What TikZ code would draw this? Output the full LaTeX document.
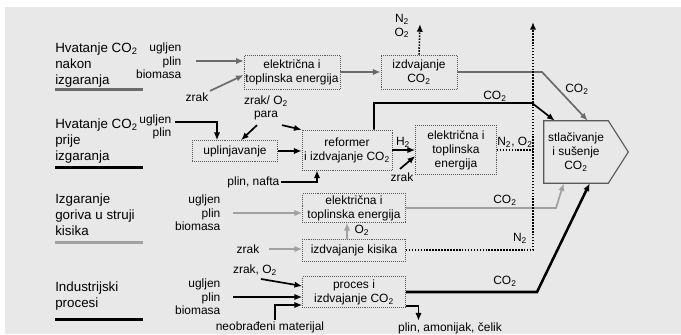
\documentclass[tikz,border=0pt]{standalone}
\usepackage{fontspec}
\setmainfont{Liberation Sans}
\usetikzlibrary{arrows.meta,calc}

\definecolor{bgcol}{gray}{0.91}
\definecolor{darkline}{gray}{0.42}
\definecolor{lightline}{gray}{0.63}
\definecolor{boxline}{gray}{0.35}

\newcommand{\cotwo}{CO\textsubscript{2}}
\newcommand{\otwo}{O\textsubscript{2}}
\newcommand{\ntwo}{N\textsubscript{2}}

\tikzset{
  >={Latex[length=5.5pt,width=4.5pt]},
  procbox/.style={draw=boxline, densely dotted, thin, align=center, inner sep=1pt, font=\fontsize{8.5}{10}\selectfont},
  lbl/.style={align=center, inner sep=1pt, font=\fontsize{8.5}{9.8}\selectfont},
  feed/.style={align=right, anchor=east, inner sep=1pt, font=\fontsize{8.5}{9.5}\selectfont},
  grouplabel/.style={align=left, anchor=west, inner sep=0pt, font=\fontsize{9.5}{11.5}\selectfont},
  dline/.style={draw=darkline, line width=1.2pt},
  bline/.style={draw=black, line width=1.2pt},
  lline/.style={draw=lightline, line width=1.2pt},
  gasline/.style={draw=black, densely dotted, line width=1.1pt},
}

\begin{document}
\begin{tikzpicture}[x=0.025cm,y=-0.025cm]
\path[use as bounding box, fill=white] (0,0) rectangle (681,334);
\fill[bgcol] (5,7) rectangle (681,334);

% group labels
\node[grouplabel] (g1) at (55,65) {Hvatanje \cotwo\\nakon\\izgaranja};
\node[grouplabel] (g2) at (55,141) {Hvatanje \cotwo\\prije\\izgaranja};
\node[grouplabel] (g3) at (55,215) {Izgaranje\\goriva u struji\\kisika};
\node[grouplabel] (g4) at (55,296) {Industrijski\\procesi};
\draw[darkline, line width=2pt] ($(g1.south west)+(0,2)$) -- ++(88,0);
\draw[black, line width=2pt] ($(g2.south west)+(0,4)$) -- ++(88,0);
\draw[lightline, line width=2pt] ($(g3.south west)+(0,6)$) -- ++(88,0);
\draw[black, line width=2pt] ($(g4.south west)+(0,9)$) -- ++(88,0);

% units
\node[procbox, minimum width=2.375cm, minimum height=0.85cm] (elek1) at (292,72) {električna i\\toplinska energija};
\node[procbox, minimum width=1.9cm, minimum height=0.85cm] (izdv1) at (419,72) {izdvajanje\\\cotwo};
\node[procbox, minimum width=2.125cm, minimum height=0.525cm] (uplin) at (235,151) {uplinjavanje};
\node[procbox, minimum width=2.25cm, minimum height=1cm] (reform) at (347,150) {reformer\\i izdvajanje \cotwo};
\node[procbox, minimum width=2.025cm, minimum height=1.225cm] (elek2) at (456,150) {električna i\\toplinska\\energija};
\node[procbox, minimum width=2.575cm, minimum height=0.725cm] (elek3) at (354,208) {električna i\\toplinska energija};
\node[procbox, minimum width=2.575cm, minimum height=0.55cm] (kisik) at (354,250) {izdvajanje kisika};
\node[procbox, minimum width=2.575cm, minimum height=0.775cm] (proces) at (354,292) {proces i\\izdvajanje \cotwo};
\node[lbl, minimum width=1.6cm, minimum height=1.55cm, inner sep=0pt] (stlac) at (576,152) {stlačivanje\\i sušenje\\\cotwo};
\draw[boxline, line width=0.8pt] (stlac.north west) -- (stlac.north east) -- ($(stlac.east)+(20,0)$)
  -- (stlac.south east) -- (stlac.south west) -- cycle;

% feeds
\node[feed] (in1) at (183,61) {ugljen\\plin\\biomasa};
\node[lbl] (zrak1) at (197,97) {zrak};
\node[feed] (in2) at (173,127) {ugljen\\plin};
\node[lbl] (zo2) at (266,108) {zrak/ \otwo\\para};
\node[feed] (pn) at (281,182) {plin, nafta};
\node[lbl] (zrak2) at (402,177) {zrak};
\node[feed] (in3) at (222,213) {ugljen\\plin\\biomasa};
\node[lbl] (zrak3) at (248,249) {zrak};
\node[lbl] (zo3) at (255,270) {zrak, \otwo};
\node[feed] (in4) at (222,297) {ugljen\\plin\\biomasa};
\node[lbl] (neob) at (270,327) {neobrađeni materijal};
\node[lbl] (pac) at (450,328) {plin, amonijak, čelik};

% flow labels
\node[lbl] (n2o2a) at (402,26) {\ntwo\\\otwo};
\node[lbl] (co2a) at (577,89) {\cotwo};
\node[lbl] (co2b) at (495,96) {\cotwo};
\node[lbl] (h2) at (403,142) {H\textsubscript{2}};
\node[lbl] (n2o2b) at (515,142) {\ntwo, \otwo};
\node[lbl] (co2c) at (505,200) {\cotwo};
\node[lbl] (o2) at (362,230) {\otwo};
\node[lbl] (n2) at (520,238) {\ntwo};
\node[lbl] (co2d) at (505,281) {\cotwo};

\coordinate (k1) at (542,72);
\coordinate (k3) at (532,103);
\coordinate (k4) at (556,208);
\coordinate (k5) at (537,292);
\coordinate (vtop) at (533,22);
\coordinate (top1) at (420,24);

% nakon izgaranja
\path[dline,->,shorten <=9pt] (in1.east) -- (in1.east -| elek1.west);
\path[dline,->] (zrak1.north east) -- ($(elek1.west)+(0,3)$);
\path[dline,->] (elek1.east) -- (izdv1.west);
\path[gasline,->] (izdv1.north) -- (top1);
\path[dline,->] (izdv1.east) -- (k1) -- ($(stlac.north west)+(44,0)$);

% prije izgaranja
\path[bline,->] ($(in2.east)+(2,-5)$) -| ($(uplin.north)+(-18,0)$);
\path[bline,->] ($(zo2.south)+(-9,3)$) -- ($(uplin.north)+(6,0)$);
\path[bline,->] ($(zo2.south)+(16,3)$) -- (reform.north west);
\path[bline,->] (uplin.east) -- (uplin.east -| reform.west);
\path[bline,->] (pn.east) -| ($(reform.south)+(-30,0)$);
\path[bline,->] ($(reform.north)+(27,0)$) |- (k3) -- ($(stlac.north west)+(11,0)$);
\path[bline,->] (reform.east) -- (elek2.west);
\path[bline,->] ($(zrak2.north)+(-2,-2)$) -- ($(elek2.west)+(0,6)$);
\path[gasline] (elek2.east) -- (elek2.east -| vtop);

% izgaranje u struji kisika
\path[lline,->,shorten <=8pt] (in3.east) -- (in3.east -| elek3.west);
\path[lline,->] (elek3.east) -- (k4) -- ($(stlac.south west)+(20,0)$);
\path[lline,->] ($(kisik.north)+(-7,0)$) -- ($(elek3.south)+(-7,0)$);
\path[lline,->,shorten <=6pt] (zrak3.east) -- (zrak3.east -| kisik.west);
\path[gasline,->] (kisik.east) -- (kisik.east -| vtop) -- (vtop);

% industrijski procesi
\path[bline,->] ($(zo3.south)+(6,2)$) -- ($(proces.west)+(0,-6)$);
\path[bline,->,shorten <=8pt] (in4.east) -- (in4.east -| proces.west);
\path[bline,->] ($(neob.north)+(5,0)$) |- ($(proces.west)+(0,13)$);
\path[draw=black, line width=1.8pt,->] (proces.east) -- (k5) -- ($(stlac.south west)+(46,0)$);
\path[bline,->] ($(proces.east)+(0,14)$) -| ($(pac.north west)+(22,0)$);
\end{tikzpicture}
\end{document}
